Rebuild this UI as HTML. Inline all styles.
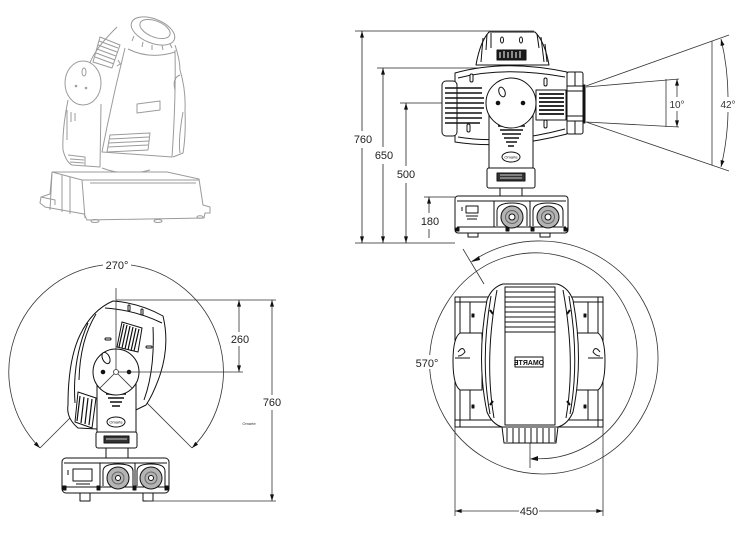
<!DOCTYPE html>
<html><head><meta charset="utf-8"><style>
html,body{margin:0;padding:0;background:#fff;}
svg{display:block;}
text{font-family:"Liberation Sans",sans-serif;}
</style></head><body>
<svg width="743" height="533" viewBox="0 0 743 533" xmlns="http://www.w3.org/2000/svg">
<defs>
<marker id="ar" viewBox="0 0 10 6" refX="10" refY="3" markerWidth="7" markerHeight="4" markerUnits="userSpaceOnUse" orient="auto-start-reverse"><path d="M0,0L10,3L0,6Z" fill="#111"/></marker>
</defs>
<rect width="743" height="533" fill="#fff"/>

<!-- ============ ISOMETRIC VIEW ============ -->
<g stroke="#9b9b9b" stroke-width="1" fill="none" stroke-linejoin="round">
  <path d="M117,27 Q102,42 97,50 Q92,57 90,63"/>
  <path d="M175,45 Q180,60 180,70 Q186,90 185,110 Q186,135 183,153 L173,157"/>
  <path d="M125,48 Q112,100 102,152 L172,157 Q176,100 175,50"/>
  <path d="M128,49 Q150,60 175,52"/>
  <ellipse cx="153" cy="31" rx="23" ry="12" transform="rotate(22 153 31)" fill="#fff"/>
  <ellipse cx="155" cy="29" rx="16" ry="8" transform="rotate(22 155 29)"/>
  <path d="M134,36 l-2,5 M143,42 l-1,5 M152,45 l0,5 M162,45 l1,5 M170,44 l2,4"/>
  <path d="M100,37 L120,45 L112,68 L93,62 Z"/>
  <path d="M99,41 L118,48 M98,45 L117,52 M97,49 L116,56 M96,53 L115,60 M95,57 L114,64"/>
  <path d="M110,135 L150,133 L148,150 L107,152 Z"/>
  <path d="M110,139 L149,137 M109,143 L149,141 M108,147 L148,145"/>
  <path d="M137,104 L160,101 L160,110 L137,113 Z"/>
  <path d="M118,60 l3,5 M120,64 l-3,2"/>
  <ellipse cx="83" cy="83" rx="18" ry="22" fill="#fff"/>
  <ellipse cx="84" cy="72" rx="2" ry="4"/>
  <circle cx="76" cy="86" r="0.8"/><circle cx="86" cy="88" r="0.8"/>
  <path d="M68,100 Q62,130 63,150 Q66,162 72,165 L100,167 L101,104"/>
  <path d="M68,155 L85,157 L85,166 M70,159 L84,160 M70,162 L84,163"/>
  <path d="M67,110 l0,30 M71,112 l0,10 M75,113 l0,8"/>
  <path d="M180,75 Q172,78 175,90 M183,112 Q178,140 180,153"/>
  <path d="M102,168 Q125,177 150,170"/>
  <path d="M52,172 L167,172 L199,179 L203,205 L210,207 L210,213 L205,213 L204,218 L87,220 L84,214 L45,207 L40,203 L41,197 L50,194 Z" fill="#fff"/>
  <path d="M52,172 L82,180 L199,180"/>
  <path d="M82,180 L85,218"/>
  <path d="M62,175 L62,212 M70,177 L70,214 M52,173 L50,210"/>
  <path d="M41,197 L55,200 L55,205"/>
  <path d="M90,183 L196,183"/>
  <ellipse cx="95" cy="221" rx="4" ry="1.5"/><ellipse cx="158" cy="221" rx="4" ry="1.5"/><ellipse cx="200" cy="217" rx="3" ry="1.3"/>
</g>

<!-- ============ FRONT VIEW ============ -->
<g stroke="#222" stroke-width="0.8" fill="none">
  <line x1="355" y1="31" x2="534" y2="31"/>
  <line x1="377" y1="68" x2="507" y2="68"/>
  <line x1="400" y1="103" x2="498" y2="103"/>
  <line x1="424" y1="197" x2="455" y2="197"/>
  <line x1="355" y1="243" x2="455" y2="243"/>
  <line x1="362" y1="131" x2="362" y2="31" marker-end="url(#ar)"/>
  <line x1="362" y1="148" x2="362" y2="243" marker-end="url(#ar)"/>
  <line x1="383" y1="147" x2="383" y2="68" marker-end="url(#ar)"/>
  <line x1="383" y1="164" x2="383" y2="243" marker-end="url(#ar)"/>
  <line x1="406" y1="166" x2="406" y2="103" marker-end="url(#ar)"/>
  <line x1="406" y1="183" x2="406" y2="243" marker-end="url(#ar)"/>
  <line x1="429" y1="213" x2="429" y2="197" marker-end="url(#ar)"/>
  <line x1="429" y1="229" x2="429" y2="238"/>
</g>
<g font-size="11" fill="#222" text-anchor="middle">
  <text x="363" y="143">760</text>
  <text x="384" y="159">650</text>
  <text x="406" y="178">500</text>
  <text x="430" y="225">180</text>
</g>

<g stroke="#333" stroke-width="0.8" fill="none">
  <line x1="586" y1="86" x2="729" y2="35"/>
  <line x1="586" y1="122" x2="729" y2="171"/>
  <line x1="712" y1="41" x2="712" y2="165"/>
  <path d="M721,39 A250,250 0 0,1 728,97" marker-start="url(#ar)"/>
  <path d="M728,112 A250,250 0 0,1 721,167" marker-end="url(#ar)"/>
  <line x1="586" y1="87" x2="679" y2="79"/>
  <line x1="586" y1="122" x2="679" y2="127"/>
  <line x1="666" y1="79" x2="666" y2="127"/>
  <line x1="677" y1="97" x2="677" y2="79" marker-end="url(#ar)"/>
  <line x1="677" y1="111" x2="677" y2="127" marker-end="url(#ar)"/>
</g>
<g font-size="10" fill="#333" text-anchor="middle">
  <text x="677" y="108">10°</text>
  <text x="728" y="108">42°</text>
</g>

<g stroke="#111" stroke-width="1" fill="#fff" stroke-linejoin="round">
  <path d="M476,65 Q480,42 489,32 L535,32 Q545,42 549,65 Z"/>
  <path d="M483,38 L481,62 M487,34 L486,50 M491,33 L491,48 M537,34 L539,48 M541,37 L544,62 M545,44 L547,62" fill="none"/>
  <ellipse cx="502" cy="40" rx="1.5" ry="3"/><ellipse cx="521" cy="40" rx="1.5" ry="3"/>
  <rect x="497" y="50" width="29" height="10" fill="#1a1a1a"/>
  <path d="M500,52 L500,58 M504,51 L504,58 M508,52 L508,58 M512,51 L512,58 M516,52 L516,58 M520,51 L520,58" stroke="#fff" stroke-width="1" fill="none"/>
  <path d="M455,73 Q505,59 567,72 L567,134 Q505,150 455,142 Z"/>
  <path d="M458,78 Q505,66 565,77 M458,137 Q505,145 565,129" fill="none"/>
  <rect x="442" y="81" width="15" height="55" rx="4"/>
  <path d="M445,88 L482,88 M445,93 L482,93 M445,98 L484,98 M445,103 L484,103 M445,108 L484,108 M445,113 L482,113 M445,118 L482,118 M445,123 L480,123" stroke-width="1.6" fill="none"/>
  <rect x="536" y="90" width="30" height="30" fill="#fff"/>
  <path d="M539,94 L564,94 M539,98 L564,98 M539,102 L564,102 M539,106 L564,106 M539,110 L564,110 M539,114 L564,114" stroke-width="1.8" fill="none"/>
  <rect x="470" y="74" width="3" height="8" rx="1.5"/><rect x="544" y="78" width="3" height="8" rx="1.5"/>
  <rect x="544" y="120" width="3" height="8" rx="1.5"/><rect x="467" y="124" width="3" height="8" rx="1.5"/>
  <rect x="567" y="72" width="16" height="62" rx="2"/>
  <path d="M567,86 L583,86 M567,91 L583,91 M567,116 L583,116 M567,121 L583,121 M575,72 L575,86 M575,121 L575,134" fill="none"/>
  <rect x="583" y="85" width="2" height="38" fill="#111"/>
  <path d="M489,115 L489,168 L533,168 L533,115 Z"/>
  <path d="M498,126 L525,126 M500,130 L523,130 M502,134 L521,134 M504,138 L519,138 M506,142 L517,142 M508,146 L514,146" stroke-width="1.6" fill="none"/>
  <ellipse cx="511" cy="157" rx="9" ry="5"/>
  <text x="511" y="158.5" font-size="4" fill="#111" stroke="none" text-anchor="middle">Omarte</text>
  <rect x="487" y="168" width="48" height="20" rx="2"/>
  <rect x="497" y="173" width="28" height="8" fill="#333"/>
  <path d="M500,175 L522,175 M500,178 L522,178" stroke="#fff" stroke-width="0.8" fill="none"/>
  <path d="M500,188 L500,197 M522,188 L522,197" fill="none"/>
  <circle cx="511" cy="103" r="25"/>
  <ellipse cx="502" cy="92" rx="3" ry="5" transform="rotate(-20 502 92)"/>
  <circle cx="498" cy="103" r="1.8" fill="#111"/><circle cx="523" cy="103" r="1.8" fill="#111"/>
  <rect x="455" y="196" width="113" height="37" rx="3"/>
  <path d="M457,201 L566,201 M457,227 L566,227 M494,201 L494,227 M530,201 L530,227" fill="none"/>
  <rect x="466" y="206" width="12" height="7"/>
  <path d="M462,207 l0,4 M466,216 l12,0 M467,219 l10,0" fill="none"/>
  <path d="M497,226 L497,211 Q497,203 512,203 Q527,203 527,211 L527,226" fill="none"/>
  <path d="M533,226 L533,211 Q533,203 548,203 Q563,203 563,211 L563,226" fill="none"/>
  <circle cx="512" cy="217" r="11" fill="#b4b4b4"/><circle cx="512" cy="217" r="6.5" fill="none" stroke="#666"/><circle cx="512" cy="217" r="3" fill="#fff"/>
  <circle cx="548" cy="217" r="11" fill="#b4b4b4"/><circle cx="548" cy="217" r="6.5" fill="none" stroke="#666"/><circle cx="548" cy="217" r="3" fill="#fff"/>
  <rect x="456" y="228" width="3" height="3" fill="#111"/><rect x="506" y="228" width="3" height="3" fill="#111"/><rect x="531" y="228" width="3" height="3" fill="#111"/><rect x="564" y="228" width="3" height="3" fill="#111"/>
  <path d="M468,233 L468,237 L478,237 L478,233 M540,233 L540,237 L550,237 L550,233" fill="none"/>
</g>

<!-- ============ SIDE VIEW ============ -->
<g stroke="#333" stroke-width="0.8" fill="none">
  <path d="M40,448 A108,108 0 0,1 103,265" marker-start="url(#ar)"/>
  <path d="M131,265 A108,108 0 0,1 192,448" marker-end="url(#ar)"/>
  <line x1="116" y1="372" x2="40" y2="448"/>
  <line x1="116" y1="372" x2="192" y2="448"/>
</g>
<g stroke="#111" stroke-width="1" fill="#fff" stroke-linejoin="round">
  <path d="M113,301 Q140,303 163,316 Q170,345 160,375 Q153,395 146,405 L97,429 L78,428 Q66,418 68,405 Q68,360 80,335 Q92,310 113,301 Z"/>
  <path d="M105,308 Q135,310 162,323 M88,323 Q72,360 75,403 M153,327 Q155,370 144,400 M96,314 Q80,340 79,380" fill="none"/>
  <path d="M122,322 L142,328 L138,352 L117,347 Z"/>
  <path d="M124,324 L119,347 M127,325 L122,348 M130,326 L125,349 M133,327 L128,350 M136,328 L131,351 M139,329 L134,351" stroke-width="1.2" fill="none"/>
  <rect x="141" y="309" width="2" height="6" rx="1"/><rect x="128" y="305" width="2" height="6" rx="1"/>
  <rect x="105" y="338" width="6" height="2" rx="1"/><rect x="146" y="346" width="6" height="2" rx="1"/>
  <path d="M78,392 L96,398 L92,428 L75,422 Z"/>
  <path d="M80,396 L77,421 M84,397 L81,423 M88,398 L85,424 M92,399 L89,425" stroke-width="1.2" fill="none"/>
  <path d="M97,383 L97,433 L136,433 L136,383 Z"/>
  <path d="M104,390 L128,390 M106,394 L126,394 M108,398 L124,398 M110,402 L122,402 M112,406 L120,406" stroke-width="1.5" fill="none"/>
  <ellipse cx="116" cy="422" rx="9" ry="5"/>
  <text x="116" y="423.5" font-size="4" fill="#111" stroke="none" text-anchor="middle">Omarte</text>
  <rect x="96" y="432" width="41" height="16" rx="2"/>
  <rect x="104" y="436" width="25" height="7" fill="#333"/>
  <path d="M106,439 L127,439" stroke="#fff" stroke-width="0.8" fill="none"/>
  <rect x="106" y="448" width="22" height="10"/>
  <circle cx="116" cy="372" r="23"/>
  <ellipse cx="106" cy="358" rx="3.5" ry="6" transform="rotate(-25 106 358)"/>
  <circle cx="103" cy="372" r="1.8" fill="#111"/><circle cx="129" cy="372" r="1.8" fill="#111"/>
  <rect x="62" y="458" width="107" height="35" rx="4"/>
  <path d="M64,463 L167,463 M64,487 L167,487 M100,463 L100,487 M135,463 L135,487" fill="none"/>
  <rect x="73" y="469" width="19" height="12"/>
  <path d="M68,470 l0,5 M76,484 l14,0" fill="none"/>
  <path d="M103,486 L103,471 Q103,464 118,464 Q133,464 133,471 L133,486" fill="none"/>
  <path d="M137,486 L137,471 Q137,464 151,464 Q165,464 165,471 L165,486" fill="none"/>
  <circle cx="118" cy="478" r="11" fill="#b4b4b4"/><circle cx="118" cy="478" r="6" fill="none" stroke="#666"/><circle cx="118" cy="478" r="2.5" fill="#fff"/>
  <circle cx="151" cy="478" r="11" fill="#b4b4b4"/><circle cx="151" cy="478" r="6" fill="none" stroke="#666"/><circle cx="151" cy="478" r="2.5" fill="#fff"/>
  <rect x="63" y="486" width="3" height="4" fill="#111"/><rect x="97" y="486" width="3" height="4" fill="#111"/><rect x="133" y="486" width="3" height="4" fill="#111"/><rect x="165" y="486" width="3" height="4" fill="#111"/>
  <rect x="80" y="493" width="10" height="8"/><rect x="143" y="493" width="10" height="8"/>
</g>
<g stroke="#333" stroke-width="0.8" fill="none">
  <line x1="116" y1="288" x2="116" y2="372"/>
  <line x1="116" y1="372" x2="243" y2="372"/>
  <line x1="116" y1="372" x2="100" y2="388"/>
  <line x1="116" y1="372" x2="132" y2="388"/>
  <line x1="116" y1="300" x2="276" y2="300"/>
  <line x1="147" y1="501" x2="276" y2="501"/>
  <line x1="239" y1="332" x2="239" y2="300" marker-end="url(#ar)"/>
  <line x1="239" y1="346" x2="239" y2="372" marker-end="url(#ar)"/>
  <line x1="272" y1="395" x2="272" y2="300" marker-end="url(#ar)"/>
  <line x1="272" y1="410" x2="272" y2="501" marker-end="url(#ar)"/>
</g>
<circle cx="116" cy="372" r="2.5" fill="#fff" stroke="#333" stroke-width="0.8"/>
<g font-size="11" fill="#222" text-anchor="middle">
  <text x="117" y="269">270°</text>
  <text x="240" y="343">260</text>
  <text x="272" y="406">760</text>
</g>
<text x="249" y="425" font-size="4" fill="#333" text-anchor="middle">Omarte</text>

<!-- ============ TOP VIEW ============ -->
<g stroke="#333" stroke-width="0.8" fill="none">
  <path d="M471.7,261.5 A120,120 0 0,1 542,241 A118,118 0 0,1 601,257.8 A117,117 0 0,1 643.3,301.5 A116,116 0 0,1 658,360 A115,115 0 0,1 641.6,417.5 A115,115 0 0,1 599.3,459.2 A114,114 0 0,1 542,474 A113,113 0 0,1 485.3,458.3 A113,113 0 0,1 444.1,416.5 A112,112 0 0,1 429.5,360 A111,111 0 0,1 445.9,304.5 A110,110 0 0,1 487,264.7 A108,108 0 0,1 542,253 A105,105 0 0,1 593.5,270.8 A100,100 0 0,1 626.9,311 A96,96 0 0,1 637,360 A96,96 0 0,1 625.1,408 A97,97 0 0,1 590.5,444 A98,98 0 0,1 531.7,458.5"/>
  <line x1="463" y1="249" x2="484" y2="284"/>
  <line x1="530" y1="437" x2="530" y2="468"/>
</g>
<path d="M471,262 L479,256 L480,260 Z" fill="#111"/>
<path d="M530,459 L538,456 L538,461 Z" fill="#111"/>

<g stroke="#111" stroke-width="1" fill="#fff" stroke-linejoin="round">
  <rect x="455" y="297" width="148" height="130"/>
  <path d="M460,297 L460,427 M598,297 L598,427 M455,302 L603,302 M470,302 L470,335 M588,302 L588,335 M455,420 L603,420 M470,390 L470,420 M588,390 L588,420" fill="none"/>
  <rect x="472" y="314" width="2" height="3" fill="#111"/><rect x="584" y="314" width="2" height="3" fill="#111"/>
  <rect x="472" y="405" width="2" height="3" fill="#111"/><rect x="584" y="405" width="2" height="3" fill="#111"/>
  <path d="M460,333 L482,333 L482,390 L460,390 Q453,385 453,361 Q453,338 460,333 Z"/>
  <path d="M598,333 L576,333 L576,390 L598,390 Q605,385 605,361 Q605,338 598,333 Z"/>
  <path d="M458,352 Q463,345 465,352 Q462,356 458,356 M600,352 Q595,345 593,352 Q596,356 600,356" fill="none"/>
  <path d="M455,358 L470,358 M603,358 L588,358" fill="none"/>
  <path d="M503,284 L557,284 Q568,287 573,300 Q584,360 573,412 Q568,424 558,427 L556,443 L504,443 L502,427 Q492,424 487,412 Q476,360 487,300 Q492,287 503,284 Z"/>
  <path d="M497,290 Q484,360 494,418 M563,290 Q576,360 566,418 M491,296 Q480,360 490,414 M569,296 Q580,360 570,414" fill="none"/>
  <rect x="505" y="287" width="50" height="45"/>
  <path d="M505,292 L555,292 M505,297 L555,297 M505,302 L555,302 M505,307 L555,307 M505,312 L555,312 M505,317 L555,317 M505,322 L555,322 M505,327 L555,327" fill="none"/>
  <rect x="505" y="332" width="50" height="93"/>
  <path d="M500,427 L560,427" fill="none"/>
  <path d="M507,428 L507,442 M513,428 L513,443 M519,428 L519,443 M525,428 L525,443 M531,428 L531,443 M537,428 L537,443 M543,428 L543,443 M549,428 L549,443 M555,428 L555,442" fill="none"/>
  <path d="M490,310 l3,4 M570,310 l-3,4 M490,405 l3,-4 M570,405 l-3,-4" stroke-width="2" fill="none"/>
  <rect x="515" y="357" width="28" height="10"/>
</g>
<text transform="translate(529,365) scale(-1,1)" x="0" y="0" font-size="7" font-weight="bold" fill="#111" text-anchor="middle">OMARTE</text>

<rect x="415" y="355" width="25" height="14" fill="#fff"/>
<text x="427" y="367" font-size="11" fill="#222" text-anchor="middle">570°</text>

<g stroke="#333" stroke-width="0.8" fill="none">
  <line x1="455" y1="427" x2="455" y2="516"/>
  <line x1="603" y1="427" x2="603" y2="516"/>
  <line x1="519" y1="511" x2="455" y2="511" marker-end="url(#ar)"/>
  <line x1="539" y1="511" x2="603" y2="511" marker-end="url(#ar)"/>
</g>
<text x="529" y="515" font-size="11" fill="#222" text-anchor="middle">450</text>
</svg>
</body></html>
